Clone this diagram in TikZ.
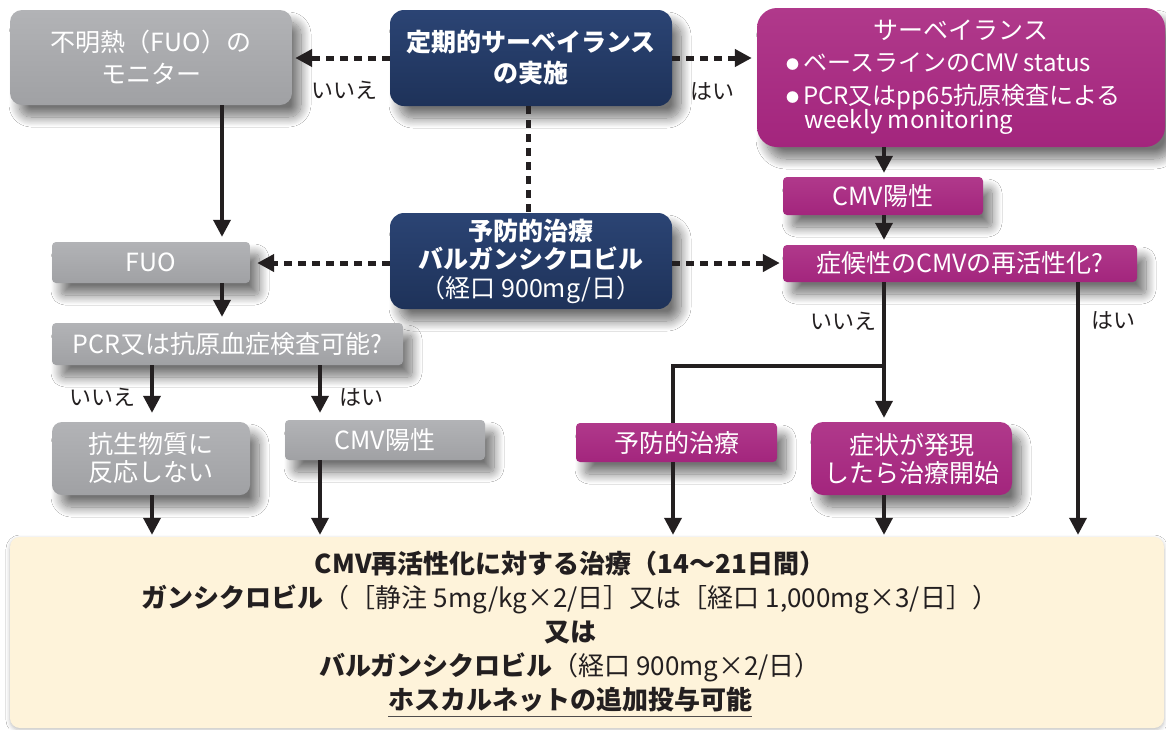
\documentclass[tikz,border=0pt]{standalone}
\usepackage{fontspec}
\setmainfont{Noto Sans CJK JP}
\usetikzlibrary{arrows.meta,shadows.blur}
\definecolor{ink}{HTML}{231F20}
\definecolor{grayTop}{HTML}{B2B3B6}
\definecolor{grayBot}{HTML}{A0A1A4}
\definecolor{navyTop}{HTML}{2B4474}
\definecolor{navyBot}{HTML}{1E3259}
\definecolor{magTop}{HTML}{B0398B}
\definecolor{magBot}{HTML}{A3257D}
\definecolor{cream}{HTML}{FEF3DA}
\newcommand{\ulbar}[1]{\setbox0\hbox{#1}\rlap{\raisebox{-8pt}{\color{ink!80}\rule{\wd0}{1.6pt}}}\box0}
\begin{document}
\begin{tikzpicture}[x=1pt,y=-1pt,
  box/.style={text=white, align=center, inner sep=0pt,
    font=\fontsize{25}{31}\selectfont,
    blur shadow={shadow xshift=9pt, shadow yshift=-12pt, shadow blur radius=10pt, shadow blur steps=16, shadow opacity=55}},
  graybox/.style={box, top color=grayTop, bottom color=grayBot},
  navybox/.style={box, top color=navyTop, bottom color=navyBot, rounded corners=14pt},
  magbox/.style={box, top color=magTop, bottom color=magBot},
  arr/.style={draw=ink, line width=3.6pt, -{Triangle[length=17pt,width=17pt]}},
  plain/.style={draw=ink, line width=3.6pt},
  darr/.style={draw=ink, line width=5pt, dash pattern=on 8pt off 6pt, -{Triangle[length=17pt,width=17pt]}},
  dline/.style={draw=ink, line width=5pt, dash pattern=on 8pt off 6pt},
  lbl/.style={text=ink, inner sep=0pt, font=\fontsize{22}{22}\selectfont}]
\useasboundingbox (0,0) rectangle (1166,729);
\fill[white] (0,0) rectangle (1166,729);

% boxes
\node[graybox, rounded corners=12pt, minimum width=282, minimum height=95] (fuomon) at (151,57.5)
  {不明熱（FUO）の\\[1pt]モニター};
\node[navybox, minimum width=282, minimum height=96] (surv) at (531,58)
  {\bfseries 定期的サーベイランス\\\bfseries の実施};
\node[magbox, rounded corners=20pt, minimum width=408, minimum height=139] (survR) at (961,77.5) {};
\node[text=white, inner sep=0pt, font=\fontsize{25}{25}\selectfont] (survT) at (961,30) {サーベイランス};
\node[text=white, inner sep=0pt, anchor=west, font=\fontsize{24}{24}\selectfont] (survA) at (786,63)
  {\raisebox{2pt}{\fontsize{13}{13}\selectfont ●}\,ベースラインのCMV status};
\node[text=white, inner sep=0pt, anchor=west, font=\fontsize{24}{24}\selectfont] (survB) at (786,97)
  {\raisebox{2pt}{\fontsize{13}{13}\selectfont ●}\,PCR又はpp65抗原検査による};
\node[text=white, inner sep=0pt, anchor=west, font=\fontsize{24}{24}\selectfont] (survC) at (804,122)
  {weekly monitoring};
\node[magbox, rounded corners=4pt, minimum width=200, minimum height=38] (cmvR) at (883,196) {CMV陽性};
\node[magbox, rounded corners=4pt, minimum width=354, minimum height=37] (symq) at (960,263.5) {症候性のCMVの再活性化?};
\node[navybox, minimum width=282, minimum height=96, font=\fontsize{25}{28.5}\selectfont] (prev) at (531,261)
  {\bfseries 予防的治療\\\bfseries バルガンシクロビル\\（経口 900mg/日）};
\node[graybox, rounded corners=4pt, minimum width=198, minimum height=41] (fuo) at (151,262.5) {FUO};
\node[graybox, rounded corners=4pt, minimum width=351, minimum height=42] (pcr) at (227.5,344) {PCR又は抗原血症検査可能?};
\node[graybox, rounded corners=10pt, minimum width=198, minimum height=73, font=\fontsize{25}{28}\selectfont] (abx) at (151,458.5) {抗生物質に\\反応しない};
\node[graybox, rounded corners=4pt, minimum width=200, minimum height=40] (cmvL) at (385,440) {CMV陽性};
\node[magbox, rounded corners=4pt, minimum width=201, minimum height=39] (prevR) at (676.5,442.5) {予防的治療};
\node[magbox, rounded corners=12pt, minimum width=201, minimum height=73, font=\fontsize{25}{28}\selectfont] (onset) at (911.5,458.5) {症状が発現\\したら治療開始};
\node[rounded corners=10pt, fill=cream, minimum width=1154, minimum height=191, inner sep=0pt,
  blur shadow={shadow xshift=0pt, shadow yshift=-2pt, shadow blur radius=4pt, shadow opacity=25}] (bottom) at (587,632.5) {};
\node[text=ink, align=center, inner sep=0pt, font=\fontsize{26}{34}\selectfont] (treat) at (570,634)
  {\bfseries CMV再活性化に対する治療（14〜21日間）\\
   {\bfseries ガンシクロビル}（［静注 5mg/kg×2/日］又は［経口 1,000mg×3/日］）\\
   \bfseries 又は\\
   {\bfseries バルガンシクロビル}（経口 900mg×2/日）\\
   \bfseries \ulbar{ホスカルネットの追加投与可能}};

% helper coordinates
\coordinate (xa) at (222,0);
\coordinate (xb) at (152,0);
\coordinate (xc) at (320,0);
\coordinate (xd) at (884,0);
\coordinate (xe) at (673,0);
\coordinate (xf) at (1078,0);
\coordinate (xg) at (528,0);
\coordinate (ym) at (0,263);
\coordinate (br) at (884,366);

% connectors
\draw[darr, shorten >=3pt] (surv.west) -- (fuomon.east |- surv.west);
\draw[darr, shorten >=5pt] (surv.east) -- (survR.west |- surv.east);
\draw[dline] (surv.south -| xg) -- (prev.north -| xg);
\draw[darr, shorten >=7pt] (prev.west |- ym) -- (fuo.east |- ym);
\draw[darr, shorten >=3pt] (prev.east |- ym) -- (symq.west |- ym);

\draw[arr, shorten >=5pt] (fuomon.south -| xa) -- (fuo.north -| xa);
\draw[arr, shorten >=6pt] (fuo.south -| xa) -- (pcr.north -| xa);
\draw[arr, shorten >=9pt] (pcr.south -| xb) -- (abx.north -| xb);
\draw[arr, shorten >=7pt] (pcr.south -| xc) -- (cmvL.north -| xc);
\draw[arr, shorten >=2pt] (abx.south -| xb) -- (bottom.north -| xb);
\draw[arr, shorten >=2pt] (cmvL.south -| xc) -- (bottom.north -| xc);

\draw[arr, shorten >=4pt] (survR.south -| xd) -- (cmvR.north -| xd);
\draw[arr, shorten >=5pt] (cmvR.south -| xd) -- (symq.north -| xd);
\draw[arr, shorten >=4pt] (symq.south -| xd) -- (onset.north -| xd);
\draw[plain] (br) -| (prevR.north -| xe);
\draw[arr, shorten >=2pt] (prevR.south -| xe) -- (bottom.north -| xe);
\draw[arr, shorten >=2pt] (onset.south -| xd) -- (bottom.north -| xd);
\draw[arr, shorten >=2pt] (symq.south -| xf) -- (bottom.north -| xf);

% labels
\node[lbl] (l1) at (344,90) {いいえ};
\node[lbl] (l2) at (712,91) {はい};
\node[lbl] (l3) at (102,397) {いいえ};
\node[lbl] (l4) at (361,397) {はい};
\node[lbl] (l5) at (843,321) {いいえ};
\node[lbl] (l6) at (1113,320) {はい};
\end{tikzpicture}
\end{document}
